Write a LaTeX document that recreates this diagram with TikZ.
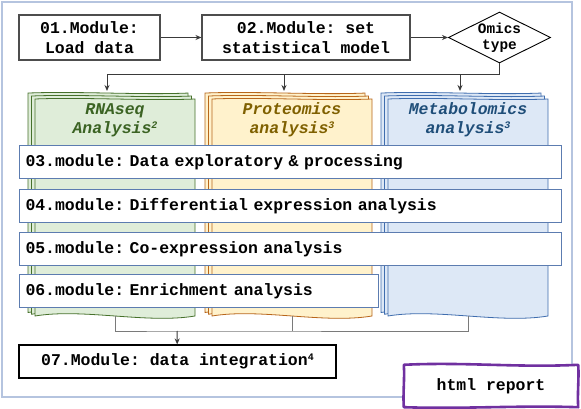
\documentclass[tikz,border=0pt]{standalone}
\usepackage{fontspec}
\usetikzlibrary{shapes.geometric, arrows.meta}
\newfontfamily\codefont{Liberation Mono}
\newcommand\monospace{\fontdimen2\font=0.6em\fontdimen3\font=0pt\fontdimen4\font=0pt}
\newcommand\modfont{\codefont\bfseries\frenchspacing\fontsize{16.45}{20}\selectfont\monospace}
\newcommand\smallmodfont{\codefont\bfseries\fontsize{14.4}{16}\selectfont\monospace}
\newcommand\titlefont{\codefont\bfseries\itshape\fontsize{16.45}{19}\selectfont\monospace}
\newcommand\supnum[1]{\raisebox{0.55ex}{\fontsize{10}{10}\selectfont #1}}

\definecolor{framecol}{HTML}{B5C4DF}
\definecolor{boxgray}{HTML}{4D4D4D}
\definecolor{linkgray}{HTML}{3A3A3A}
\definecolor{joingray}{HTML}{7A7A7A}
\definecolor{barblue}{HTML}{5C7CB0}
\definecolor{rnafill}{HTML}{DFEDD9}
\definecolor{rnadraw}{HTML}{46712B}
\definecolor{rnatext}{HTML}{3B6323}
\definecolor{protfill}{HTML}{FFF2CC}
\definecolor{protdraw}{HTML}{B8661A}
\definecolor{prottext}{HTML}{7F6000}
\definecolor{metabfill}{HTML}{DDE8F6}
\definecolor{metabdraw}{HTML}{3F6DAE}
\definecolor{metabtext}{HTML}{1F4E79}
\definecolor{reportcol}{HTML}{7030A0}

% one sheet of a stack, wavy top and bottom
\newcommand\sheet[5]{%
  \pgfmathsetmacro\sw{#3-#1}
  \draw[#5] (#1,#2) .. controls ({#1+0.3*\sw},{#2-2}) and ({#1+0.7*\sw},{#2+2}) .. (#3,#2)
    -- (#3,#4) .. controls ({#3-0.3*\sw},{#4+8}) and ({#1+0.3*\sw},{#4-8}) .. (#1,#4) -- cycle;}
% three sheets, back to front
\newcommand\omicsstack[5]{%
  \foreach \d in {7,3.5,0} {
    \pgfmathsetmacro\xa{#1-\d}
    \pgfmathsetmacro\ya{#2-0.85*\d}
    \pgfmathsetmacro\xb{#3-\d}
    \pgfmathsetmacro\yb{#4-0.5*\d}
    \sheet{\xa}{\ya}{\xb}{\yb}{#5}
  }}

\tikzset{
  module/.style={draw=boxgray, line width=1.1pt, fill=white, align=center,
    font=\modfont, inner sep=0pt},
  bar/.style={draw=barblue, line width=1pt, fill=white, align=left,
    font=\modfont, inner xsep=6pt, inner ysep=0pt, minimum height=33,
    anchor=north west},
  omics/.style={diamond, draw=black, line width=0.9pt, fill=white, aspect=2,
    inner sep=0pt, minimum width=97, minimum height=45, align=center,
    font=\smallmodfont},
  stacktitle/.style={align=center, font=\titlefont},
  link/.style={draw=linkgray, line width=1pt, -{Stealth[length=6pt,width=5pt]}},
  joinline/.style={draw=joingray, line width=1pt},
}

\begin{document}
\begin{tikzpicture}[x=1pt, y=-1pt]
\useasboundingbox (0,0) rectangle (581,409);
\fill[white] (0,0) rectangle (581,409);

% outer frame
\draw[framecol, line width=1.6pt] (2,2) rectangle (572,397);

% first row
\node[module, minimum width=141, minimum height=45] (m01) at (89.5,37.5) {01.Module:\\Load data};
\node[module, minimum width=208, minimum height=45] (m02) at (306,37.5) {02.Module: set\\statistical model};
\node[omics] (omics) at (499.5,37.5) {Omics\\type};

\draw[link] (m01) -- (m02);
\draw[link] (m02) -- (omics);

% omics stacks
\omicsstack{35}{99}{195}{316}{fill=rnafill, draw=rnadraw, line width=0.8pt}
\omicsstack{212}{99}{372}{316}{fill=protfill, draw=protdraw, line width=0.8pt}
\omicsstack{388}{99}{548}{316}{fill=metabfill, draw=metabdraw, line width=0.8pt}

\node[stacktitle, text=rnatext] (rna) at (115,120) {RNAseq\\Analysis\supnum{2}};
\node[stacktitle, text=prottext] (prot) at (292,120) {Proteomics\\analysis\supnum{3}};
\node[stacktitle, text=metabtext] (metab) at (468,120) {Metabolomics\\analysis\supnum{3}};

\coordinate (branch) at (499.5,75);
\coordinate (rna-top) at (107,91);
\coordinate (prot-top) at (284,91);
\coordinate (metab-top) at (460,91);
\coordinate (rna-bot) at (115,316);
\coordinate (prot-bot) at (292,316);
\coordinate (metab-bot) at (468,316);
\coordinate (join) at (177,331);

\draw[link] (omics.south) -- (branch) -| (rna-top);
\draw[link] (branch) -| (prot-top);
\draw[link] (branch) -| (metab-top);

% module bars
\node[bar, text width=530] (m03) at (19,145) {03.module: Data exploratory \& processing};
\node[bar, text width=530] (m04) at (19,189) {04.module: Differential expression analysis};
\node[bar, text width=530] (m05) at (19,232) {05.module: Co-expression analysis};
\node[bar, text width=347] (m06) at (19,274) {06.module: Enrichment analysis};

% integration
\node[module, draw=black, minimum width=317, minimum height=33] (m07) at (177.5,361.5) {07.Module: data integration\supnum{4}};

\draw[joinline] (rna-bot) |- (join) -| (metab-bot);
\draw[joinline] (prot-bot) -- (prot-bot |- join);
\draw[link] (join) -- (m07);

% report
\node[font=\modfont, fill=white, minimum width=174, minimum height=42, inner sep=0pt] (report) at (491,386) {html report};
\draw[reportcol, line width=2.6pt, line join=round]
  (report.north west) .. controls +(60,-3) and +(-60,3) .. (report.north east)
  .. controls +(1,14) and +(-1,-14) .. (report.south east)
  .. controls +(-60,-2) and +(60,2) .. (report.south west)
  .. controls +(-1,-14) and +(1,14) .. cycle;
\end{tikzpicture}
\end{document}
